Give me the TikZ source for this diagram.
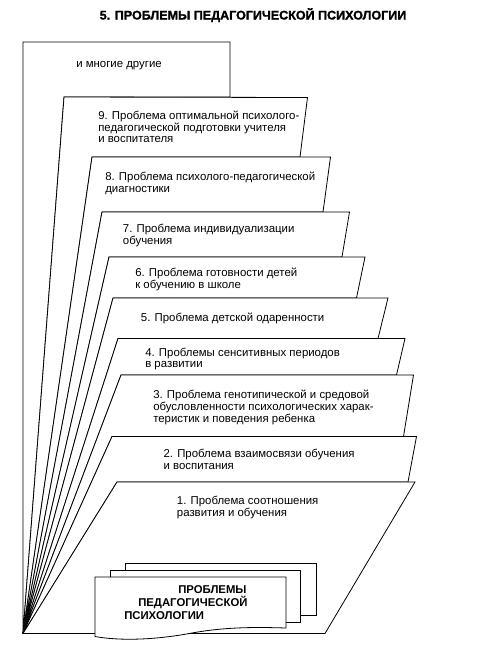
\documentclass[tikz,border=0pt]{standalone}
\usepackage{fontspec}
\setmainfont{Liberation Sans}
\newfontfamily\heavyfont[BoldFeatures={FakeBold=1.5}]{Liberation Sans}
\begin{document}
\begin{tikzpicture}[x=0.75pt,y=-0.75pt,
  card/.style={fill=white,draw=black,line width=0.6pt,line join=miter},
  txt/.style={anchor=base west,inner sep=0pt,align=left,font=\fontsize{8.55pt}{8.8pt}\selectfont},
  boxtxt/.style={anchor=base west,inner sep=0pt,align=left,font=\bfseries\fontsize{8.5pt}{9.6pt}\selectfont},
  titletxt/.style={anchor=base,inner sep=0pt,font=\heavyfont\bfseries\fontsize{9.4pt}{10pt}\selectfont}]
\useasboundingbox (0,0) rectangle (483,651);
\fill[white] (0,0) rectangle (483,651);
% apex of the fan
\coordinate (A) at (23,633.5);
% corners
\coordinate (tl0) at (23,42);    \coordinate (tr0) at (230,42);    \coordinate (br0) at (230,97);
\coordinate (tl9) at (64,97);    \coordinate (tr9) at (307.5,97.5); \coordinate (br9) at (300,157);
\coordinate (tl8) at (92,157);   \coordinate (tr8) at (330.5,157); \coordinate (br8) at (323,212);
\coordinate (tl7) at (102,212);  \coordinate (tr7) at (349.5,212); \coordinate (br7) at (342,257);
\coordinate (tl6) at (109,257);  \coordinate (tr6) at (365,257);   \coordinate (br6) at (356.5,298);
\coordinate (tl5) at (113,298);  \coordinate (tr5) at (388,298);   \coordinate (br5) at (378,338.5);
\coordinate (tl4) at (118,338.5);\coordinate (tr4) at (405,338.5); \coordinate (br4) at (396.5,375);
\coordinate (tl3) at (121,375);  \coordinate (tr3) at (413.5,375); \coordinate (br3) at (403.5,436.5);
\coordinate (tl2) at (112,436.5);\coordinate (tr2) at (416.5,436.5); \coordinate (br2) at (408,482);
\coordinate (tl1) at (117,482);  \coordinate (tr1) at (415,482);   \coordinate (br1) at (325,633.5);
% cards, back to front
\path[card] (A) -- (tl0) -- (tr0) -- (br0) -- (tl9) -- cycle;
\path[card] (A) -- (tl9) -- (tr9) -- (br9) -- (tl8) -- cycle;
\path[card] (A) -- (tl8) -- (tr8) -- (br8) -- (tl7) -- cycle;
\path[card] (A) -- (tl7) -- (tr7) -- (br7) -- (tl6) -- cycle;
\path[card] (A) -- (tl6) -- (tr6) -- (br6) -- (tl5) -- cycle;
\path[card] (A) -- (tl5) -- (tr5) -- (br5) -- (tl4) -- cycle;
\path[card] (A) -- (tl4) -- (tr4) -- (br4) -- (tl3) -- cycle;
\path[card] (A) -- (tl3) -- (tr3) -- (br3) -- (tl2) -- cycle;
\path[card] (A) -- (tl2) -- (tr2) -- (br2) -- (tl1) -- cycle;
\path[card] (A) -- (tl1) -- (tr1) -- (br1) -- cycle;
% texts (anchored at the baseline of the last line)
\node[txt] (t0) at (76,67.9) {и многие другие};
\node[txt] (t9) at (98,142.9) {9. Проблема оптимальной психолого-\\педагогической подготовки учителя\\и воспитателя};
\node[txt] (t8) at (105,192.2) {8. Проблема психолого-педагогической\\диагностики};
\node[txt] (t7) at (122.7,244.6) {7. Проблема индивидуализации\\обучения};
\node[txt] (t6) at (135,288.6) {6. Проблема готовности детей\\к обучению в школе};
\node[txt] (t5) at (140.7,321.2) {5. Проблема детской одаренности};
\node[txt] (t4) at (145,367.9) {4. Проблемы сенситивных периодов\\в развитии};
\node[txt] (t3) at (153,422.2) {3. Проблема генотипической и средовой\\обусловленности психологических харак-\\теристик и поведения ребенка};
\node[txt] (t2) at (163.3,469.6) {2. Проблема взаимосвязи обучения\\и воспитания};
\node[txt] (t1) at (176.7,516.2) {1. Проблема соотношения\\развития и обучения};
% stacked box at the bottom
\coordinate (bb1) at (125,563.5); \coordinate (bb2) at (316,615.7);
\coordinate (mb1) at (110,570.5); \coordinate (mb2) at (300,622.5);
\path[card] (bb1) rectangle (bb2);
\path[card] (mb1) rectangle (mb2);
\coordinate (f1) at (95,577); \coordinate (f2) at (286,577);
\coordinate (f3) at (286,628); \coordinate (f4) at (95,636.5);
\path[card] (f1) -- (f2) -- (f3) .. controls (255,627) and (225,627) .. (192,633)
  .. controls (155,640) and (120,641) .. (f4) -- cycle;
\node[boxtxt] (bt) at (124,619) {\hspace*{40.5pt}ПРОБЛЕМЫ\\\hspace*{10.5pt}ПЕДАГОГИЧЕСКОЙ\\ПСИХОЛОГИИ};
% title
\node[titletxt] (title) at (253,19.5) {5. ПРОБЛЕМЫ ПЕДАГОГИЧЕСКОЙ ПСИХОЛОГИИ};
\end{tikzpicture}
\end{document}
